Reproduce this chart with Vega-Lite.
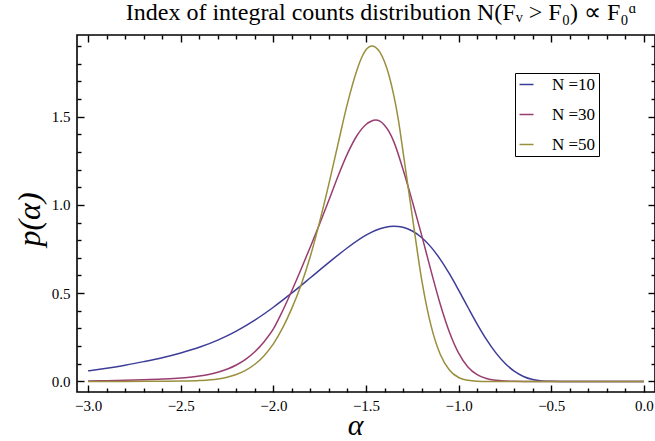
{
  "$schema": "https://vega.github.io/schema/vega-lite/v6.json",
  "width": 578,
  "height": 357,
  "autosize": {"type": "none"},
  "padding": {"left": 77, "top": 35, "right": 0, "bottom": 49},
  "background": "white",
  "config": {
    "view": {"stroke": "black", "strokeWidth": 1.6},
    "font": "Times New Roman, Liberation Serif, serif",
    "title": {
      "font": "Times New Roman, Liberation Serif, serif",
      "fontSize": 24,
      "fontWeight": "normal",
      "color": "black"
    },
    "axis": {
      "grid": false,
      "domain": false,
      "tickColor": "black",
      "tickWidth": 1.4,
      "labelColor": "black",
      "labelFont": "Times New Roman, Liberation Serif, serif",
      "titleFont": "Times New Roman, Liberation Serif, serif",
      "titleColor": "black"
    },
    "legend": {
      "labelFont": "Times New Roman, Liberation Serif, serif"
    }
  },
  "title": {
    "text": "Index of integral counts distribution N(Fᵥ > F₀) ∝ F₀ᵅ",
    "font": "Times New Roman, Liberation Serif, serif",
    "fontSize": 24,
    "fontWeight": "normal",
    "color": "black",
    "anchor": "middle",
    "frame": "group",
    "dx": 15,
    "offset": 9
  },
  "data": {
    "values": [
      {"alpha": -3.0, "p": 0.060, "N": "N =10"},
      {"alpha": -2.9, "p": 0.075, "N": "N =10"},
      {"alpha": -2.8, "p": 0.092, "N": "N =10"},
      {"alpha": -2.7, "p": 0.112, "N": "N =10"},
      {"alpha": -2.6, "p": 0.134, "N": "N =10"},
      {"alpha": -2.5, "p": 0.161, "N": "N =10"},
      {"alpha": -2.4, "p": 0.193, "N": "N =10"},
      {"alpha": -2.3, "p": 0.234, "N": "N =10"},
      {"alpha": -2.2, "p": 0.285, "N": "N =10"},
      {"alpha": -2.1, "p": 0.347, "N": "N =10"},
      {"alpha": -2.0, "p": 0.420, "N": "N =10"},
      {"alpha": -1.9, "p": 0.501, "N": "N =10"},
      {"alpha": -1.8, "p": 0.587, "N": "N =10"},
      {"alpha": -1.7, "p": 0.674, "N": "N =10"},
      {"alpha": -1.6, "p": 0.757, "N": "N =10"},
      {"alpha": -1.5, "p": 0.828, "N": "N =10"},
      {"alpha": -1.45, "p": 0.855, "N": "N =10"},
      {"alpha": -1.4, "p": 0.872, "N": "N =10"},
      {"alpha": -1.35, "p": 0.879, "N": "N =10"},
      {"alpha": -1.3, "p": 0.873, "N": "N =10"},
      {"alpha": -1.25, "p": 0.852, "N": "N =10"},
      {"alpha": -1.2, "p": 0.815, "N": "N =10"},
      {"alpha": -1.15, "p": 0.762, "N": "N =10"},
      {"alpha": -1.1, "p": 0.693, "N": "N =10"},
      {"alpha": -1.05, "p": 0.610, "N": "N =10"},
      {"alpha": -1.0, "p": 0.517, "N": "N =10"},
      {"alpha": -0.95, "p": 0.420, "N": "N =10"},
      {"alpha": -0.9, "p": 0.325, "N": "N =10"},
      {"alpha": -0.85, "p": 0.238, "N": "N =10"},
      {"alpha": -0.8, "p": 0.163, "N": "N =10"},
      {"alpha": -0.75, "p": 0.103, "N": "N =10"},
      {"alpha": -0.7, "p": 0.058, "N": "N =10"},
      {"alpha": -0.65, "p": 0.028, "N": "N =10"},
      {"alpha": -0.6, "p": 0.011, "N": "N =10"},
      {"alpha": -0.55, "p": 0.003, "N": "N =10"},
      {"alpha": -0.5, "p": 0.0005, "N": "N =10"},
      {"alpha": -0.45, "p": 0.0, "N": "N =10"},
      {"alpha": -0.3, "p": 0.0, "N": "N =10"},
      {"alpha": -0.2, "p": 0.0, "N": "N =10"},
      {"alpha": -0.1, "p": 0.0, "N": "N =10"},
      {"alpha": 0.0, "p": 0.0, "N": "N =10"},

      {"alpha": -3.0, "p": 0.003, "N": "N =30"},
      {"alpha": -2.9, "p": 0.004, "N": "N =30"},
      {"alpha": -2.8, "p": 0.006, "N": "N =30"},
      {"alpha": -2.7, "p": 0.009, "N": "N =30"},
      {"alpha": -2.6, "p": 0.013, "N": "N =30"},
      {"alpha": -2.5, "p": 0.019, "N": "N =30"},
      {"alpha": -2.4, "p": 0.030, "N": "N =30"},
      {"alpha": -2.3, "p": 0.052, "N": "N =30"},
      {"alpha": -2.2, "p": 0.093, "N": "N =30"},
      {"alpha": -2.15, "p": 0.125, "N": "N =30"},
      {"alpha": -2.1, "p": 0.168, "N": "N =30"},
      {"alpha": -2.05, "p": 0.225, "N": "N =30"},
      {"alpha": -2.0, "p": 0.297, "N": "N =30"},
      {"alpha": -1.95, "p": 0.400, "N": "N =30"},
      {"alpha": -1.9, "p": 0.515, "N": "N =30"},
      {"alpha": -1.85, "p": 0.637, "N": "N =30"},
      {"alpha": -1.8, "p": 0.763, "N": "N =30"},
      {"alpha": -1.75, "p": 0.893, "N": "N =30"},
      {"alpha": -1.7, "p": 1.027, "N": "N =30"},
      {"alpha": -1.65, "p": 1.165, "N": "N =30"},
      {"alpha": -1.6, "p": 1.290, "N": "N =30"},
      {"alpha": -1.55, "p": 1.390, "N": "N =30"},
      {"alpha": -1.5, "p": 1.455, "N": "N =30"},
      {"alpha": -1.475, "p": 1.472, "N": "N =30"},
      {"alpha": -1.447, "p": 1.480, "N": "N =30"},
      {"alpha": -1.425, "p": 1.474, "N": "N =30"},
      {"alpha": -1.4, "p": 1.451, "N": "N =30"},
      {"alpha": -1.375, "p": 1.413, "N": "N =30"},
      {"alpha": -1.35, "p": 1.358, "N": "N =30"},
      {"alpha": -1.3, "p": 1.200, "N": "N =30"},
      {"alpha": -1.25, "p": 1.020, "N": "N =30"},
      {"alpha": -1.2, "p": 0.830, "N": "N =30"},
      {"alpha": -1.15, "p": 0.630, "N": "N =30"},
      {"alpha": -1.1, "p": 0.440, "N": "N =30"},
      {"alpha": -1.05, "p": 0.280, "N": "N =30"},
      {"alpha": -1.0, "p": 0.160, "N": "N =30"},
      {"alpha": -0.95, "p": 0.082, "N": "N =30"},
      {"alpha": -0.9, "p": 0.038, "N": "N =30"},
      {"alpha": -0.85, "p": 0.016, "N": "N =30"},
      {"alpha": -0.8, "p": 0.006, "N": "N =30"},
      {"alpha": -0.75, "p": 0.002, "N": "N =30"},
      {"alpha": -0.7, "p": 0.0005, "N": "N =30"},
      {"alpha": -0.65, "p": 0.0, "N": "N =30"},
      {"alpha": -0.5, "p": 0.0, "N": "N =30"},
      {"alpha": -0.4, "p": 0.0, "N": "N =30"},
      {"alpha": -0.3, "p": 0.0, "N": "N =30"},
      {"alpha": -0.2, "p": 0.0, "N": "N =30"},
      {"alpha": -0.1, "p": 0.0, "N": "N =30"},
      {"alpha": 0.0, "p": 0.0, "N": "N =30"},

      {"alpha": -3.0, "p": 0.0, "N": "N =50"},
      {"alpha": -2.8, "p": 0.0, "N": "N =50"},
      {"alpha": -2.6, "p": 0.001, "N": "N =50"},
      {"alpha": -2.5, "p": 0.002, "N": "N =50"},
      {"alpha": -2.4, "p": 0.005, "N": "N =50"},
      {"alpha": -2.3, "p": 0.014, "N": "N =50"},
      {"alpha": -2.25, "p": 0.024, "N": "N =50"},
      {"alpha": -2.2, "p": 0.039, "N": "N =50"},
      {"alpha": -2.15, "p": 0.062, "N": "N =50"},
      {"alpha": -2.1, "p": 0.097, "N": "N =50"},
      {"alpha": -2.05, "p": 0.146, "N": "N =50"},
      {"alpha": -2.0, "p": 0.213, "N": "N =50"},
      {"alpha": -1.95, "p": 0.303, "N": "N =50"},
      {"alpha": -1.9, "p": 0.415, "N": "N =50"},
      {"alpha": -1.85, "p": 0.548, "N": "N =50"},
      {"alpha": -1.8, "p": 0.710, "N": "N =50"},
      {"alpha": -1.75, "p": 0.905, "N": "N =50"},
      {"alpha": -1.7, "p": 1.120, "N": "N =50"},
      {"alpha": -1.65, "p": 1.350, "N": "N =50"},
      {"alpha": -1.6, "p": 1.575, "N": "N =50"},
      {"alpha": -1.55, "p": 1.760, "N": "N =50"},
      {"alpha": -1.525, "p": 1.830, "N": "N =50"},
      {"alpha": -1.5, "p": 1.878, "N": "N =50"},
      {"alpha": -1.485, "p": 1.893, "N": "N =50"},
      {"alpha": -1.467, "p": 1.900, "N": "N =50"},
      {"alpha": -1.45, "p": 1.894, "N": "N =50"},
      {"alpha": -1.425, "p": 1.865, "N": "N =50"},
      {"alpha": -1.4, "p": 1.810, "N": "N =50"},
      {"alpha": -1.375, "p": 1.730, "N": "N =50"},
      {"alpha": -1.35, "p": 1.620, "N": "N =50"},
      {"alpha": -1.325, "p": 1.480, "N": "N =50"},
      {"alpha": -1.3, "p": 1.300, "N": "N =50"},
      {"alpha": -1.25, "p": 0.935, "N": "N =50"},
      {"alpha": -1.2, "p": 0.580, "N": "N =50"},
      {"alpha": -1.15, "p": 0.320, "N": "N =50"},
      {"alpha": -1.1, "p": 0.155, "N": "N =50"},
      {"alpha": -1.05, "p": 0.065, "N": "N =50"},
      {"alpha": -1.0, "p": 0.022, "N": "N =50"},
      {"alpha": -0.95, "p": 0.006, "N": "N =50"},
      {"alpha": -0.9, "p": 0.001, "N": "N =50"},
      {"alpha": -0.85, "p": 0.0, "N": "N =50"},
      {"alpha": -0.7, "p": 0.0, "N": "N =50"},
      {"alpha": -0.6, "p": 0.0, "N": "N =50"},
      {"alpha": -0.5, "p": 0.0, "N": "N =50"},
      {"alpha": -0.4, "p": 0.0, "N": "N =50"},
      {"alpha": -0.3, "p": 0.0, "N": "N =50"},
      {"alpha": -0.2, "p": 0.0, "N": "N =50"},
      {"alpha": -0.1, "p": 0.0, "N": "N =50"},
      {"alpha": 0.0, "p": 0.0, "N": "N =50"}
    ]
  },
  "layer": [
    {
      "mark": {"type": "line", "strokeWidth": 1.5, "interpolate": "monotone"},
      "encoding": {
        "x": {
          "field": "alpha", "type": "quantitative",
          "scale": {"domain": [-3.06, 0.06], "nice": false, "zero": false},
          "axis": {
            "orient": "bottom",
            "values": [-3, -2.5, -2, -1.5, -1, -0.5, 0],
            "format": ".1f",
            "tickSize": -7,
            "labelPadding": 13,
            "labelFont": "Times New Roman, Liberation Serif, serif",
            "labelFontSize": 15,
            "title": "α",
            "titleFont": "Times New Roman, Liberation Serif, serif",
            "titleFontStyle": "italic",
            "titleFontWeight": "normal",
            "titleFontSize": 30,
            "titleX": 278,
            "titleY": 42,
            "titleBaseline": "alphabetic"
          }
        },
        "y": {
          "field": "p", "type": "quantitative",
          "scale": {"domain": [-0.06, 1.962], "nice": false, "zero": false},
          "axis": {
            "orient": "left",
            "values": [0, 0.5, 1, 1.5],
            "format": ".1f",
            "tickSize": -7,
            "labelPadding": 14,
            "labelFont": "Times New Roman, Liberation Serif, serif",
            "labelFontSize": 15,
            "title": "p(α)",
            "titleFont": "Times New Roman, Liberation Serif, serif",
            "titleFontStyle": "italic",
            "titleFontWeight": "normal",
            "titleFontSize": 32,
            "titleX": -48,
            "titleY": 184,
            "titleBaseline": "middle",
            "titleAngle": -90
          }
        },
        "color": {
          "field": "N", "type": "nominal",
          "scale": {"domain": ["N =10", "N =30", "N =50"], "range": ["#3d3d99", "#993d71", "#998f3d"]},
          "legend": {
            "title": null,
            "orient": "none",
            "legendX": 438,
            "legendY": 38,
            "symbolType": "stroke",
            "symbolSize": 196,
            "symbolStrokeWidth": 1.5,
            "labelFont": "Times New Roman, Liberation Serif, serif",
            "labelFontSize": 17,
            "labelColor": "black",
            "labelOffset": 17,
            "rowPadding": 12,
            "padding": 3,
            "strokeColor": "black",
            "fillColor": "white"
          }
        }
      }
    },
    {
      "mark": {"type": "point", "opacity": 0},
      "encoding": {
        "x": {
          "field": "alpha", "type": "quantitative",
          "axis": {
            "orient": "bottom",
            "values": [-2.9, -2.8, -2.7, -2.6, -2.4, -2.3, -2.2, -2.1, -1.9, -1.8, -1.7, -1.6, -1.4, -1.3, -1.2, -1.1, -0.9, -0.8, -0.7, -0.6, -0.4, -0.3, -0.2, -0.1],
            "labels": false,
            "tickSize": -4,
            "title": null
          }
        },
        "y": {
          "field": "p", "type": "quantitative",
          "axis": {
            "orient": "left",
            "values": [0.1, 0.2, 0.3, 0.4, 0.6, 0.7, 0.8, 0.9, 1.1, 1.2, 1.3, 1.4, 1.6, 1.7, 1.8, 1.9],
            "labels": false,
            "tickSize": -4,
            "title": null
          }
        }
      }
    },
    {
      "mark": {"type": "point", "opacity": 0},
      "encoding": {
        "x": {
          "field": "alpha", "type": "quantitative",
          "axis": {
            "orient": "top",
            "values": [-3, -2.5, -2, -1.5, -1, -0.5, 0],
            "labels": false,
            "tickSize": -7,
            "title": null
          }
        },
        "y": {
          "field": "p", "type": "quantitative",
          "axis": {
            "orient": "right",
            "values": [0, 0.5, 1, 1.5],
            "labels": false,
            "tickSize": -7,
            "title": null
          }
        }
      }
    },
    {
      "mark": {"type": "point", "opacity": 0},
      "encoding": {
        "x": {
          "field": "alpha", "type": "quantitative",
          "axis": {
            "orient": "top",
            "values": [-2.9, -2.8, -2.7, -2.6, -2.4, -2.3, -2.2, -2.1, -1.9, -1.8, -1.7, -1.6, -1.4, -1.3, -1.2, -1.1, -0.9, -0.8, -0.7, -0.6, -0.4, -0.3, -0.2, -0.1],
            "labels": false,
            "tickSize": -4,
            "title": null
          }
        },
        "y": {
          "field": "p", "type": "quantitative",
          "axis": {
            "orient": "right",
            "values": [0.1, 0.2, 0.3, 0.4, 0.6, 0.7, 0.8, 0.9, 1.1, 1.2, 1.3, 1.4, 1.6, 1.7, 1.8, 1.9],
            "labels": false,
            "tickSize": -4,
            "title": null
          }
        }
      }
    }
  ],
  "resolve": {"axis": {"x": "independent", "y": "independent"}}
}
